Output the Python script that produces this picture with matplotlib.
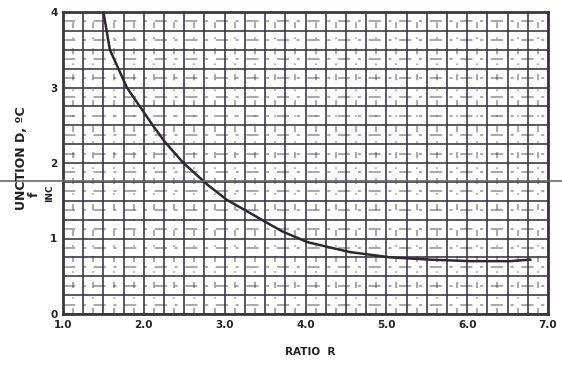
import numpy as np
import matplotlib
matplotlib.use("Agg")
import matplotlib.pyplot as plt
from matplotlib.ticker import MultipleLocator, FixedLocator
from matplotlib.lines import Line2D

# Data
ratio_r = [1.50, 1.58, 1.79, 2.11, 2.26, 2.49, 2.79, 3.03, 3.31, 3.52, 3.72,
           4.03, 4.55, 5.05, 5.54, 6.04, 6.53, 6.78]
function_d = [4.0, 3.5, 3.0, 2.50, 2.28, 2.0, 1.71, 1.51, 1.34, 1.21, 1.09,
              0.95, 0.82, 0.75, 0.72, 0.70, 0.70, 0.72]
x_ticks = [1, 2, 3, 4, 5, 6, 7]
x_labels = ["1.0", "2.0", "3.0", "4.0", "5.0", "6.0", "7.0"]
y_ticks = [0, 1, 2, 3, 4]
y_labels = ["0", "1", "2", "3", "4"]

W, H = 562, 371
fig = plt.figure(figsize=(W / 100, H / 100), dpi=100)
ax = fig.add_axes([63 / W, 1 - 314 / H, (548 - 63) / W, (314 - 12) / H])

ink = "#3b3540"
ax.set_xlim(1, 7)
ax.set_ylim(0, 4)

# fine dashed grid (1/8 units)
for xv in np.arange(1.125, 7, 0.25):
    ax.axvline(xv, color=ink, lw=1.1, ls=(0, (4, 6, 1, 6)), alpha=0.55, zorder=1)
for yv in np.arange(0.125, 4, 0.25):
    ax.axhline(yv, color=ink, lw=1.1, ls=(0, (8, 5, 2, 5)), alpha=0.55, zorder=1)

ax.xaxis.set_major_locator(FixedLocator(x_ticks))
ax.yaxis.set_major_locator(FixedLocator(y_ticks))
ax.xaxis.set_minor_locator(MultipleLocator(0.25))
ax.yaxis.set_minor_locator(MultipleLocator(0.25))
ax.grid(True, which="both", color=ink, lw=1.3, alpha=0.9, zorder=2)
ax.set_axisbelow(True)

ax.set_xticklabels(x_labels, fontsize=7.5, fontweight="bold", color="#222222")
ax.set_yticklabels(y_labels, fontsize=7.5, fontweight="bold", color="#222222")
ax.tick_params(which="both", length=0, pad=4)

for s in ax.spines.values():
    s.set_color(ink)
    s.set_linewidth(2.0)

ax.plot(ratio_r, function_d, color="#2e2830", lw=1.8, zorder=5)

# labels
fig.text(310 / W, 1 - 352 / H, "RATIO  R", ha="center", va="center",
         fontsize=7.5, fontweight="bold", color="#222222")
fig.text(22 / W, 1 - 158 / H, "UNCTION D, ºC", rotation=90, ha="center", va="center",
         fontsize=9, fontweight="bold", color="#222222")
fig.text(34 / W, 1 - 194 / H, "f", rotation=90, ha="center", va="center",
         fontsize=9, fontweight="bold", color="#222222")
fig.text(50 / W, 1 - 193 / H, "INC", rotation=90, ha="center", va="center",
         fontsize=6.5, fontweight="bold", color="#222222")

# scan artifact line across the page
fig.add_artist(Line2D([0, 1], [1 - 181 / H, 1 - 181 / H], transform=fig.transFigure,
                      color="#6a6470", lw=1.2))

fig.savefig("out.png", dpi=100)
